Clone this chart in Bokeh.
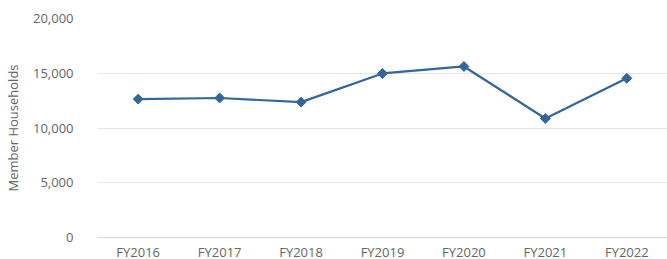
import math
from bokeh.plotting import figure
from bokeh.models import FactorRange, Range1d, FixedTicker, NumeralTickFormatter, Label
from bokeh.embed import file_html
from bokeh.resources import INLINE

categories = ["FY2016", "FY2017", "FY2018", "FY2019", "FY2020", "FY2021", "FY2022"]
households = [12640, 12740, 12360, 14980, 15620, 10870, 14540]
y_ticks = [0, 5000, 10000, 15000, 20000]
title_text = "Measure: MEMBER HOUSEHOLDS"
y_title = "Member Households"

LINE = "#33679a"
GRAY = "#666666"
FONT = "Open Sans"

p = figure(
    x_range=FactorRange(*categories, range_padding=0),
    y_range=Range1d(0, 20000),
    width=667, height=263,
    output_backend="svg", toolbar_location=None,
    min_border_left=94, min_border_right=0, min_border_top=18, min_border_bottom=22,
)
p.margin = (0, 0, 0, 0)
p.outline_line_color = None
p.background_fill_color = "white"
p.border_fill_color = "white"

p.line(categories, households, line_color=LINE, line_width=2.2)
p.scatter(categories, households, marker="square", angle=math.pi / 4, size=7,
          fill_color=LINE, line_color=LINE)

p.xgrid.grid_line_color = None
p.ygrid.grid_line_color = "#e6e6e6"
p.ygrid.grid_line_width = 1

ya = p.yaxis[0]
ya.ticker = FixedTicker(ticks=y_ticks)
ya.formatter = NumeralTickFormatter(format="0,0")
ya.axis_line_color = None
ya.major_tick_line_color = None
ya.minor_tick_line_color = None
ya.major_label_standoff = 18
ya.major_label_text_font = FONT
ya.major_label_text_font_size = "13px"
ya.major_label_text_color = GRAY
ya.axis_label = y_title
ya.axis_label_text_font = FONT
ya.axis_label_text_font_size = "13px"
ya.axis_label_text_font_style = "normal"
ya.axis_label_text_color = GRAY
ya.axis_label_standoff = 8

xa = p.xaxis[0]
xa.axis_line_color = "#ccd6eb"
xa.axis_line_width = 1
xa.major_tick_line_color = None
xa.minor_tick_line_color = None
xa.major_tick_out = 0
xa.major_label_standoff = 5
xa.major_label_text_font = FONT
xa.major_label_text_font_size = "13px"
xa.major_label_text_color = GRAY

# title: centre at x = 3.335 in categorical synthetic units, baseline just inside the top edge
title = Label(x=3.335, y=21280, text=title_text,
              text_align="center", text_baseline="alphabetic",
              text_font=FONT, text_font_style="bold", text_font_size="22px",
              text_color="#000000", level="overlay")
p.add_layout(title)

open("out.html", "w").write(file_html(p, INLINE))
